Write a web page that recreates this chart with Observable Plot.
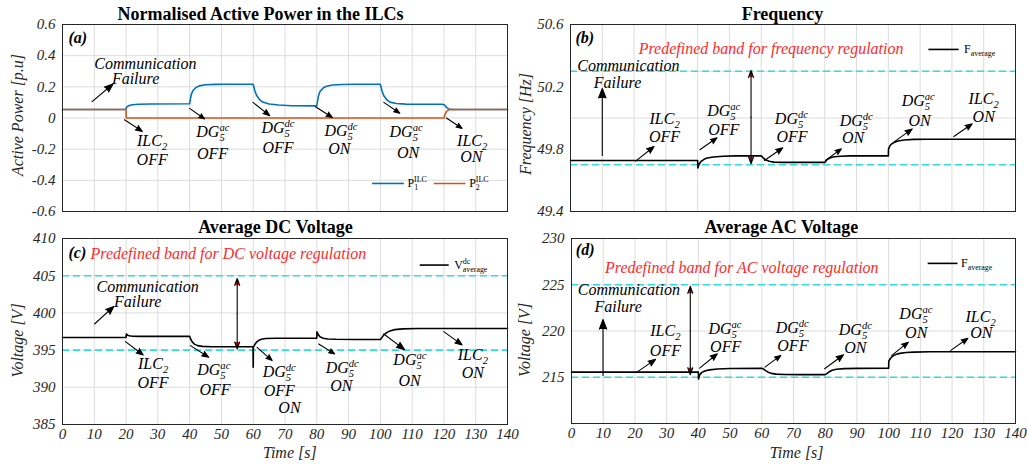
<!DOCTYPE html>
<html><head><meta charset="utf-8">
<script src="https://cdn.jsdelivr.net/npm/d3@7"></script>
<script src="https://cdn.jsdelivr.net/npm/@observablehq/plot@0.6"></script>
<style>
html,body{margin:0;padding:0;background:#fff;}
#fig{position:relative;width:1027px;height:464px;overflow:hidden;background:#fff;}
.panel{position:absolute;}
</style></head><body><div id="fig"></div>
<script>
// ---------- x ticks ----------
const X_TICKS = [0,10,20,30,40,50,60,70,80,90,100,110,120,130,140];

// ---------- (a) Normalised active power ----------
const tP1 = [0,20,20.05,20.5,21,22,24,28, 40,40.05,40.5,41,42,43,45,48,52, 60,60.05,60.5,61,62,63,65,68,72, 80,80.05,80.5,81,82,83,85,88,92, 100,100.05,100.5,101,102,103,105,108,112, 119.5,120.2,120.8,121.5,123,126,140];
const p1  = [0.055,0.055,0.066,0.075,0.080,0.085,0.088,0.090, 0.091,0.100,0.150,0.175,0.196,0.206,0.213,0.216,0.217, 0.217,0.212,0.175,0.148,0.118,0.102,0.090,0.083,0.079, 0.078,0.085,0.140,0.170,0.193,0.204,0.212,0.215,0.217, 0.217,0.212,0.175,0.146,0.117,0.102,0.093,0.089,0.088, 0.088,0.083,0.068,0.058,0.055,0.055,0.055];
const tP2 = [0,20,20.05,120,120.4,120.8,121.3,122,124,140];
const p2  = [0.055,0.055,0.0,0.0,0.025,0.042,0.050,0.054,0.055,0.055];
const yTicksA = [-0.6,-0.4,-0.2,0,0.2,0.4,0.6];

// ---------- (b) Frequency ----------
const tF   = [0,40,40.05,40.5,41,42,43,45,48,52, 60,60.3,60.8,61.5,62.5,64,67,72, 80,80.5,81,82,83,85,88, 100,100.05,100.5,101,102,103,105,108,112,140];
const freq = [49.727,49.727,49.68,49.705,49.72,49.735,49.743,49.75,49.755,49.757, 49.757,49.752,49.74,49.73,49.722,49.717,49.715,49.715, 49.715,49.728,49.737,49.746,49.751,49.755,49.757, 49.757,49.80,49.822,49.833,49.845,49.852,49.859,49.863,49.864,49.864];
const yLabelsB = [49.4,49.8,50.2,50.6];
const yGridB = [49.4,49.7,50.0,50.3,50.6];
const bandB = [49.7,50.3];

// ---------- (c) Average DC voltage ----------
const tV  = [0,20,20.1,20.5,21,22,24, 40,40.3,40.8,41.5,42.5,44,47,52, 59.95,60,60.05,60.5,61,61.7,62.5,64,67,72, 80,80.05,80.5,81,82,83.5,86,92, 100,100.5,101,102,103,104.5,107,112,140];
const vdc = [396.7,396.7,397.15,397.0,396.92,396.87,396.85, 396.85,396.5,396.1,395.8,395.6,395.5,395.45,395.45, 395.45,392.7,395.4,395.75,396.05,396.3,396.45,396.55,396.6,396.6, 396.6,397.45,397.05,396.8,396.6,396.5,396.45,396.42, 396.42,396.7,397.0,397.35,397.58,397.75,397.85,397.9,397.9];
const yTicksC = [385,390,395,400,405,410];
const bandC = [395,405];

// ---------- (d) Average AC voltage ----------
const tA  = [0,40,40.05,40.4,41,42,43.5,46,50, 60,60.5,61.2,62,63,64.5,67,72, 80,80.6,81.3,82.2,83.5,86,90, 100,100.05,100.6,101.3,102.2,103.5,105.5,108,113,140];
const vac = [215.55,215.55,214.8,215.25,215.5,215.68,215.8,215.9,215.95, 215.97,215.9,215.72,215.55,215.42,215.34,215.3,215.28, 215.28,215.42,215.6,215.75,215.86,215.93,215.96, 215.97,216.75,217.05,217.28,217.45,217.58,217.67,217.72,217.75,217.75];
const yLabelsD = [215,220,225,230];
const yGridD = [210,215,220,225,230];
const bandD = [215,225];

// ---------- annotations ----------
const textA = [
 {x:26.1,y:0.348,s:"Communication"},{x:23.0,y:0.252,s:"Failure"},
 {x:28.2,y:-0.146,s:"ILC_2"},{x:28.2,y:-0.270,s:"OFF"},
 {x:47.3,y:-0.091,s:"DG_5^{ac}"},{x:47.2,y:-0.232,s:"OFF"},
 {x:67.8,y:-0.065,s:"DG_5^{dc}"},{x:67.8,y:-0.189,s:"OFF"},
 {x:87.6,y:-0.082,s:"DG_5^{dc}"},{x:87.1,y:-0.200,s:"ON"},
 {x:108.1,y:-0.091,s:"DG_5^{ac}"},{x:108.7,y:-0.226,s:"ON"},
 {x:128.9,y:-0.146,s:"ILC_2"},{x:128.6,y:-0.248,s:"ON"}
];
const arrowsA = [
 {x1:9.3,y1:0.105,x2:15.9,y2:0.218},{x1:19.5,y1:-0.011,x2:25.1,y2:-0.086},
 {x1:40.0,y1:0.062,x2:44.7,y2:-0.006},{x1:59.9,y1:0.100,x2:65.2,y2:0.015},
 {x1:79.6,y1:0.072,x2:84.9,y2:0.003},{x1:101.1,y1:0.100,x2:106.1,y2:0.030},
 {x1:120.8,y1:0.000,x2:125.7,y2:-0.067}
];
const textB = [
 {x:18.2,y:50.332,s:"Communication"},{x:14.8,y:50.228,s:"Failure"},
 {x:29.6,y:49.997,s:"ILC_2"},{x:29.6,y:49.877,s:"OFF"},
 {x:48.2,y:50.048,s:"DG_5^{ac}"},{x:48.2,y:49.926,s:"OFF"},
 {x:69.5,y:49.995,s:"DG_5^{dc}"},{x:69.7,y:49.877,s:"OFF"},
 {x:89.9,y:49.979,s:"DG_5^{dc}"},{x:88.9,y:49.872,s:"ON"},
 {x:109.4,y:50.107,s:"DG_5^{ac}"},{x:109.8,y:49.984,s:"ON"},
 {x:130.0,y:50.123,s:"ILC_2"},{x:130.0,y:50.005,s:"ON"}
];
const arrowsB = [
 {x1:10.0,y1:49.76,x2:10.0,y2:50.19},{x1:20.5,y1:49.723,x2:26.3,y2:49.817},
 {x1:40.7,y1:49.796,x2:46.1,y2:49.873},{x1:61.0,y1:49.727,x2:66.8,y2:49.809},
 {x1:80.2,y1:49.727,x2:85.2,y2:49.802},{x1:101.7,y1:49.845,x2:107.5,y2:49.93},
 {x1:120.6,y1:49.881,x2:126.4,y2:49.963}
];
const dblB = [{x:56.8,y1:49.706,y2:50.305}];
const textC = [
 {x:26.8,y:403.55,s:"Communication"},{x:23.65,y:401.53,s:"Failure"},
 {x:28.5,y:393.15,s:"ILC_2"},{x:28.5,y:390.57,s:"OFF"},
 {x:47.6,y:392.35,s:"DG_5^{ac}"},{x:48.0,y:389.67,s:"OFF"},
 {x:68.2,y:392.14,s:"DG_5^{dc}"},{x:68.2,y:389.5,s:"OFF"},{x:71.4,y:387.3,s:"ON"},
 {x:88.0,y:392.62,s:"DG_5^{dc}"},{x:87.7,y:390.13,s:"ON"},
 {x:109.3,y:393.7,s:"DG_5^{ac}"},{x:109.2,y:390.9,s:"ON"},
 {x:129.1,y:394.37,s:"ILC_2"},{x:129.1,y:391.91,s:"ON"}
];
const arrowsC = [
 {x1:10.07,y1:398.51,x2:16.14,y2:400.87},{x1:19.8,y1:396.14,x2:25.4,y2:394.35},
 {x1:40.26,y1:395.6,x2:46.0,y2:394.03},{x1:61.2,y1:395.37,x2:65.96,y2:393.59},
 {x1:80.6,y1:395.83,x2:85.6,y2:394.49},{x1:101.07,y1:397.17,x2:107.6,y2:395.06},
 {x1:119.95,y1:397.48,x2:125.7,y2:395.7}
];
const dblC = [{x:54.96,y1:395.16,y2:404.63}];
const textD = [
 {x:18.1,y:224.4,s:"Communication"},{x:14.7,y:222.6,s:"Failure"},
 {x:29.6,y:219.97,s:"ILC_2"},{x:29.6,y:217.81,s:"OFF"},
 {x:48.4,y:220.24,s:"DG_5^{ac}"},{x:48.6,y:218.3,s:"OFF"},
 {x:69.6,y:220.32,s:"DG_5^{dc}"},{x:69.8,y:218.35,s:"OFF"},
 {x:89.5,y:220.1,s:"DG_5^{dc}"},{x:89.5,y:218.15,s:"ON"},
 {x:108.6,y:221.85,s:"DG_5^{ac}"},{x:108.7,y:219.78,s:"ON"},
 {x:129.0,y:221.58,s:"ILC_2"},{x:129.2,y:219.78,s:"ON"}
];
const arrowsD = [
 {x1:9.94,y1:215.2,x2:9.94,y2:221.24},{x1:20.4,y1:215.5,x2:26.5,y2:216.93},
 {x1:40.4,y1:215.99,x2:46.0,y2:217.54},{x1:61.0,y1:216.1,x2:66.0,y2:217.36},
 {x1:79.8,y1:215.92,x2:85.8,y2:217.43},{x1:101.0,y1:217.36,x2:106.2,y2:218.79},
 {x1:119.6,y1:217.9,x2:125.0,y2:219.22}
];
const dblD = [{x:37.45,y1:215.28,y2:224.83}];

// legends
const BLUE = "#0072BD", ORANGE = "#D95319", CYAN = "#30dede", RED = "#ff2a2a";
const legLinesA = [{x1:97.4,x2:107.4,y:-0.42,c:BLUE},{x1:116.8,x2:126.8,y:-0.42,c:ORANGE}];
const legTextA = [{x:107.9,y:-0.42,s:"P_1^{ILC}"},{x:127.3,y:-0.42,s:"P_2^{ILC}"}];
const legLinesB = [{x1:112.6,x2:122.1,y:50.44,c:"black"}];
const legTextB = [{x:123.2,y:50.44,s:"F_{average}"}];
const legLinesC = [{x1:112.4,x2:121.5,y:406.43,c:"black"}];
const legTextC = [{x:122.6,y:406.43,s:"V^{dc}_{average}"}];
const legLinesD = [{x1:112.3,x2:121.7,y:227.31,c:"black"}];
const legTextD = [{x:122.2,y:227.31,s:"F_{average}"}];

const redB = [{x:63.1,y:50.446,s:"Predefined band for frequency regulation"}];
const redC = [{x:8.8,y:407.95,s:"Predefined band for DC voltage regulation"}];
const redD = [{x:53.7,y:226.87,s:"Predefined band for AC voltage regulation"}];

const FONT = "'Liberation Serif','DejaVu Serif',serif";
const fig = document.getElementById("fig");

function richify(root) {
  root.querySelectorAll("text").forEach(t => {
    const s = t.textContent;
    if (!/[_^]/.test(s)) return;
    const fs = parseFloat(getComputedStyle(t).fontSize) || 16;
    const tokens = []; let i = 0, buf = "";
    while (i < s.length) {
      const c = s[i];
      if (c === "_" || c === "^") {
        if (buf) { tokens.push({type:"n", s:buf}); buf = ""; }
        let arg;
        if (s[i+1] === "{") { const j = s.indexOf("}", i+2); arg = s.slice(i+2, j); i = j+1; }
        else { arg = s[i+1]; i += 2; }
        tokens.push({type:c, s:arg});
      } else { buf += c; i++; }
    }
    if (buf) tokens.push({type:"n", s:buf});
    while (t.firstChild) t.removeChild(t.firstChild);
    let prev = null;
    for (const tk of tokens) {
      const ts = document.createElementNS("http://www.w3.org/2000/svg", "tspan");
      ts.textContent = tk.s;
      if (tk.type !== "n") {
        ts.setAttribute("font-size", (fs*0.66).toFixed(1));
        ts.setAttribute("baseline-shift", tk.type === "^" ? (fs*0.40).toFixed(1) : (-fs*0.22).toFixed(1));
      }
      t.appendChild(ts);
      if (tk.type !== "n" && prev) ts.setAttribute("dx", (-prev.getComputedTextLength()).toFixed(1));
      prev = tk.type !== "n" ? ts : null;
    }
  });
}

function dblArrows(d) {
  return d.flatMap(a => [
    {x1:a.x, y1:(a.y1+a.y2)/2, x2:a.x, y2:a.y1},
    {x1:a.x, y1:(a.y1+a.y2)/2, x2:a.x, y2:a.y2}
  ]);
}

function build(cfg) {
  const wrap = document.createElement("div");
  wrap.className = "panel";
  Object.assign(wrap.style, {left: cfg.left+"px", top: cfg.top+"px", width: cfg.width+"px", height: cfg.height+"px"});
  const T = {fontFamily: FONT};
  const marks = [
    Plot.gridX(X_TICKS, {stroke:"#dcdcdc", strokeOpacity:1, strokeWidth:1}),
    Plot.gridY(cfg.ygrid, {stroke:"#dcdcdc", strokeOpacity:1, strokeWidth:1}),
    Plot.axisY(cfg.ylabels, {tickSize:0, tickPadding:7, label:null, tickFormat: cfg.fmt, fontFamily: FONT}),
    cfg.xaxis ? Plot.axisX(X_TICKS, {tickSize:0, tickPadding:4, label:null, fontFamily: FONT}) : null,
    cfg.band ? Plot.ruleY(cfg.band, {stroke:CYAN, strokeDasharray:"7,4", strokeWidth:1.6}) : null,
    ...cfg.series.map(s => Plot.line(s.t, {x: s.t, y: s.v, stroke: s.c, strokeWidth: 1.6})),
    Plot.frame({stroke:"#262626", strokeWidth:1}),
    Plot.arrow(cfg.arrows, {x1:"x1", y1:"y1", x2:"x2", y2:"y2", stroke:"black", fill:"black", strokeWidth:1.1, headLength:14, headAngle:42}),
    cfg.dbl ? Plot.arrow(dblArrows(cfg.dbl), {x1:"x1", y1:"y1", x2:"x2", y2:"y2", stroke:"black", fill:"#e02020", strokeWidth:1.1, headLength:10, headAngle:40}) : null,
    Plot.text(cfg.texts, {...T, x:"x", y:"y", text:"s", fontSize:16, fontStyle:"italic", fill:"black", lineAnchor:"middle"}),
    Plot.link(cfg.legLines, {x1:"x1", x2:"x2", y1:"y", y2:"y", stroke:"c", strokeWidth:1.6}),
    Plot.text(cfg.legText, {...T, x:"x", y:"y", text:"s", fontSize:12, fontStyle:"normal", fill:"black", textAnchor:"start", dx:2, lineAnchor:"middle"}),
    cfg.red ? Plot.text(cfg.red, {...T, x:"x", y:"y", text:"s", fontSize:16, fontStyle:"italic", fill:RED, textAnchor: cfg.redAnchor, lineAnchor:"middle"}) : null,
    Plot.text([{x: cfg.titleX, s: cfg.title}], {...T, x:"x", frameAnchor:"top", dy: cfg.titleDy, text:"s", fontSize:18, fontWeight:"bold", fontStyle:"normal", fill:"black", lineAnchor:"middle"}),
    Plot.text([cfg.letter], {...T, frameAnchor:"top-left", dx: cfg.letterDx, dy: cfg.letterDy, text: d => d, fontSize:16, fontWeight:"bold", fontStyle:"italic", fill:"black", textAnchor:"start", lineAnchor:"middle"}),
    Plot.text([cfg.ytitle], {...T, frameAnchor:"left", rotate:-90, dx: cfg.ytDx, dy: cfg.ytDy, text: d => d, fontSize:16, fontStyle:"italic", fill:"#262626", textAnchor:"middle", lineAnchor:"middle"}),
    cfg.xaxis ? Plot.text([{x: cfg.xtX, s: "Time [s]"}], {...T, x:"x", frameAnchor:"bottom", dy: cfg.xtDy, text:"s", fontSize:16, fontStyle:"italic", fill:"#262626", lineAnchor:"middle"}) : null
  ].filter(Boolean);
  const svg = Plot.plot({
    width: cfg.width, height: cfg.height,
    marginTop: cfg.mt, marginRight: cfg.mr, marginBottom: cfg.mb, marginLeft: cfg.ml,
    x: cfg.xaxis ? {domain:[0,140]} : {domain:[0,140], axis:null},
    y: {domain: cfg.ydomain},
    color: {type:"identity"},
    style: "font-family: 'Liberation Serif', serif; font-style: italic; font-size: 15px; color: #262626; background: transparent; overflow: visible;",
    marks
  });
  wrap.appendChild(svg);
  fig.appendChild(wrap);
  richify(svg);
}

build({
  left:0, top:0, width:512, height:214, mt:24, mr:5, mb:3, ml:62,
  ydomain:[-0.6,0.6], ylabels:yTicksA, ygrid:yTicksA, fmt: d => d === 0 ? "0" : d.toFixed(1),
  xaxis:false, band:null,
  series:[{t:tP1, v:p1, c:BLUE},{t:tP2, v:p2, c:ORANGE}],
  arrows:arrowsA, dbl:null, texts:textA, legLines:legLinesA, legText:legTextA,
  red:null, title:"Normalised Active Power in the ILCs", titleX:62.3, titleDy:-10,
  letter:"(a)", letterDx:6, letterDy:13.5, ytitle:"Active Power [p.u]", ytDx:-44.5, ytDy:-3
});
build({
  left:512, top:0, width:515, height:214, mt:24, mr:12, mb:3, ml:58,
  ydomain:[49.4,50.6], ylabels:yLabelsB, ygrid:yGridB, fmt: d => d.toFixed(1),
  xaxis:false, band:bandB,
  series:[{t:tF, v:freq, c:"black"}],
  arrows:arrowsB, dbl:dblB, texts:textB, legLines:legLinesB, legText:legTextB,
  red:redB, redAnchor:"middle", title:"Frequency", titleX:66.7, titleDy:-10,
  letter:"(b)", letterDx:5, letterDy:13, ytitle:"Frequency [Hz]", ytDx:-45, ytDy:6
});
build({
  left:0, top:214, width:512, height:250, mt:24, mr:5, mb:40, ml:62,
  ydomain:[385,410], ylabels:yTicksC, ygrid:yTicksC, fmt: d => String(d),
  xaxis:true, xtX:71.5, xtDy:28.5, band:bandC,
  series:[{t:tV, v:vdc, c:"black"}],
  arrows:arrowsC, dbl:dblC, texts:textC, legLines:legLinesC, legText:legTextC,
  red:redC, redAnchor:"start", title:"Average DC Voltage", titleX:67, titleDy:-11.3,
  letter:"(c)", letterDx:6, letterDy:14, ytitle:"Voltage [V]", ytDx:-45, ytDy:9
});
build({
  left:512, top:214, width:515, height:250, mt:24, mr:12, mb:41, ml:59,
  ydomain:[210,230], ylabels:yLabelsD, ygrid:yGridD, fmt: d => String(d),
  xaxis:true, xtX:71, xtDy:29.2, band:bandD,
  series:[{t:tA, v:vac, c:"black"}],
  arrows:arrowsD, dbl:dblD, texts:textD, legLines:legLinesD, legText:legTextD,
  red:redD, redAnchor:"middle", title:"Average AC Voltage", titleX:66.2, titleDy:-11.3,
  letter:"(d)", letterDx:4.3, letterDy:11, ytitle:"Voltage [V]", ytDx:-47, ytDy:9
});
</script></body></html>
